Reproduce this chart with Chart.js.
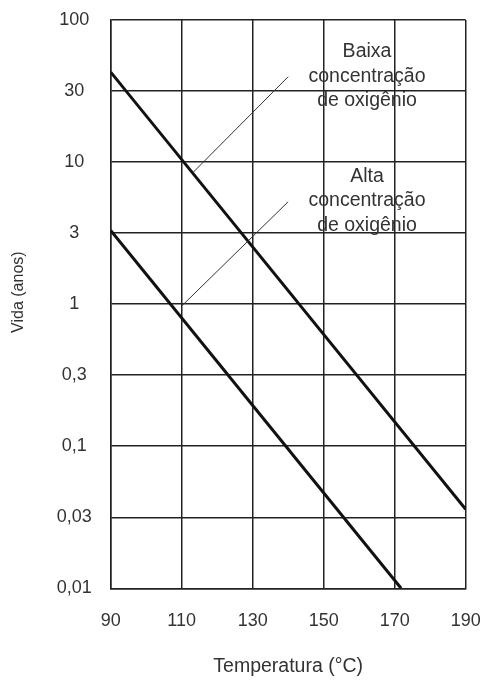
<!DOCTYPE html>
<html>
<head>
<meta charset="utf-8">
<script src="https://cdn.jsdelivr.net/npm/chart.js@4/dist/chart.umd.min.js"></script>
<style>
  html, body { margin: 0; padding: 0; background: #fff; }
  canvas { display: block; }
</style>
</head>
<body>
<canvas id="c" width="484" height="680"></canvas>
<script>
// Temperature axis (°C)
const temperatureTicks = [90, 110, 130, 150, 170, 190];

// Life axis (years), gridlines every half decade
const lifeTickValues = [0.01, 0.03162, 0.1, 0.3162, 1, 3.162, 10, 31.62, 100];
const lifeTickLabels = ['0,01', '0,03', '0,1', '0,3', '1', '3', '10', '30', '100'];

// Low oxygen concentration
const lowOxygenTemp = [90, 190];
const lowOxygenLife = [43, 0.036];

// High oxygen concentration
const highOxygenTemp = [90, 171.8];
const highOxygenLife = [3.3, 0.01];

// Leader lines from the labels to the curves
const lowLeaderTemp = [113.3, 140];
const lowLeaderLife = [8.5, 39.9];
const highLeaderTemp = [110, 140];
const highLeaderLife = [0.97, 5.26];

// Curve labels
const lowLabelLines = ['Baixa', 'concentração', 'de oxigênio'];
const highLabelLines = ['Alta', 'concentração', 'de oxigênio'];
const labelTemp = [162.2, 162.2];
const labelLife = [59.6, 7.9];

const Y_TITLE = 'Vida (anos)';
const X_TITLE = 'Temperatura (°C)';

const FONT = '"Liberation Sans", Arial, Helvetica, sans-serif';
const INK = '#333333';
const GRID = '#222222';

const toPoints = (xs, ys) => xs.map((x, i) => ({ x, y: ys[i] }));

const curveLabels = {
  id: 'curveLabels',
  afterDatasetsDraw(chart) {
    const { ctx, chartArea, scales: { x, y } } = chart;
    const blocks = [lowLabelLines, highLabelLines];
    ctx.save();
    ctx.font = '19.5px ' + FONT;
    ctx.fillStyle = INK;
    ctx.textAlign = 'center';
    ctx.textBaseline = 'middle';
    blocks.forEach((lines, b) => {
      const px = x.getPixelForValue(labelTemp[b]);
      const py = y.getPixelForValue(labelLife[b]);
      lines.forEach((t, i) => ctx.fillText(t, px, py + i * 24.5));
    });

    // vertical axis title
    ctx.font = '16px ' + FONT;
    ctx.translate(chartArea.left - 92.5, (chartArea.top + chartArea.bottom) / 2 - 12);
    ctx.rotate(-Math.PI / 2);
    ctx.fillText(Y_TITLE, 0, 0);
    ctx.restore();
  }
};

Chart.defaults.font.family = FONT;
Chart.defaults.font.size = 18;
Chart.defaults.color = INK;

new Chart(document.getElementById('c'), {
  type: 'scatter',
  data: {
    datasets: [
      {
        data: toPoints(lowLeaderTemp, lowLeaderLife),
        showLine: true, borderColor: '#333', borderWidth: 1, pointRadius: 0
      },
      {
        data: toPoints(highLeaderTemp, highLeaderLife),
        showLine: true, borderColor: '#333', borderWidth: 1, pointRadius: 0
      },
      {
        label: 'Baixa concentração de oxigênio',
        data: toPoints(lowOxygenTemp, lowOxygenLife),
        showLine: true, borderColor: '#111', borderWidth: 3, pointRadius: 0
      },
      {
        label: 'Alta concentração de oxigênio',
        data: toPoints(highOxygenTemp, highOxygenLife),
        showLine: true, borderColor: '#111', borderWidth: 3, pointRadius: 0
      }
    ]
  },
  options: {
    responsive: false,
    animation: false,
    devicePixelRatio: 1,
    layout: { padding: { left: 7.5, top: 20, right: 18.3, bottom: 2 } },
    plugins: { legend: { display: false }, tooltip: { enabled: false } },
    scales: {
      x: {
        type: 'linear',
        min: temperatureTicks[0],
        max: temperatureTicks[temperatureTicks.length - 1],
        afterBuildTicks: s => { s.ticks = temperatureTicks.map(v => ({ value: v })); },
        ticks: { padding: 22, color: INK, autoSkip: false, maxRotation: 0 },
        grid: { color: GRID, lineWidth: 1.5, drawTicks: false },
        border: { color: GRID, width: 1.5 },
        title: { display: true, text: X_TITLE, color: INK, padding: 0, font: { size: 19.5 } },
        afterFit: s => {
          s.height = 89.7;
          s.paddingLeft = 0;
          s.paddingRight = 0;
        }
      },
      y: {
        type: 'logarithmic',
        min: lifeTickValues[0],
        max: lifeTickValues[lifeTickValues.length - 1],
        afterBuildTicks: s => { s.ticks = lifeTickValues.map(v => ({ value: v })); },
        ticks: {
          padding: 19, color: INK, autoSkip: false, crossAlign: 'center',
          callback: (v, i) => lifeTickLabels[i]
        },
        grid: { color: GRID, lineWidth: 1.5, drawTicks: false },
        border: { color: GRID, width: 1.5 },
        title: { display: false },
        afterFit: s => {
          s.width = 103.2;
          s.paddingTop = 0;
          s.paddingBottom = 0;
        }
      }
    }
  },
  plugins: [curveLabels]
});
</script>
</body>
</html>
